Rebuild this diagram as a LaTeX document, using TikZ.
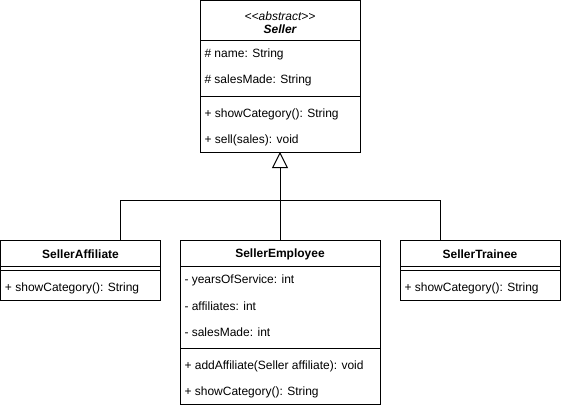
\documentclass[tikz,border=0pt]{standalone}
\usepackage{fontspec}
\setmainfont{Liberation Sans}
\usetikzlibrary{arrows.meta}
\begin{document}
\begin{tikzpicture}[x=0.75pt,y=-0.75pt,line width=0.75pt,
  umlbox/.style={draw,rectangle,anchor=north west,inner sep=0pt,outer sep=0pt},
  member/.style={anchor=west,inner sep=0pt,yshift=-1pt,font=\fontsize{9}{11}\selectfont},
  cname/.style={inner sep=0pt,yshift=-1pt,font=\fontsize{9}{11}\selectfont\bfseries},
  inherit/.style={-{Triangle[open,length=12pt,width=12pt]}}]
\useasboundingbox (0,0) rectangle (561,408);

% Seller
\node[umlbox,minimum width=120pt,minimum height=114pt] (seller) at (200,0) {};
\draw (200,40) -- (360,40);
\draw (200,96) -- (360,96);
\node[inner sep=0pt,yshift=-1pt,font=\fontsize{9}{11}\selectfont\itshape] (sellerst) at (280,15) {<\kern0pt<abstract>\kern0pt>};
\node[cname,font=\fontsize{9}{11}\selectfont\bfseries\itshape] (sellername) at (280,28) {Seller};
\node[member] (s1) at (204,53) {\# name: String};
\node[member] (s2) at (204,79) {\# salesMade: String};
\node[member] (s3) at (204,113) {+ showCategory(): String};
\node[member] (s4) at (204,139) {+ sell(sales): void};

% SellerAffiliate
\node[umlbox,minimum width=120pt,minimum height=45pt] (aff) at (0.5,240) {};
\draw (0.5,266) -- (160.5,266);
\draw (0.5,270) -- (160.5,270);
\node[cname] (affname) at (80.5,253) {SellerAffiliate};
\node[member] (a1) at (4.5,287) {+ showCategory(): String};

% SellerEmployee
\node[umlbox,minimum width=150pt,minimum height=123pt] (emp) at (180,240) {};
\draw (180,266) -- (380,266);
\draw (180,348) -- (380,348);
\node[cname] (empname) at (280,253) {SellerEmployee};
\node[member] (e1) at (184,279) {- yearsOfService: int};
\node[member] (e2) at (184,305) {- affiliates: int};
\node[member] (e3) at (184,331) {- salesMade: int};
\node[member] (e4) at (184,365) {+ addAffiliate(Seller affiliate): void};
\node[member] (e5) at (184,391) {+ showCategory(): String};

% SellerTrainee
\node[umlbox,minimum width=120pt,minimum height=45pt] (tra) at (400,240) {};
\draw (400,266) -- (560,266);
\draw (400,270) -- (560,270);
\node[cname] (traname) at (480,253) {SellerTrainee};
\node[member] (t1) at (404,287) {+ showCategory(): String};

% Inheritance
\coordinate (join) at (280,200);
\coordinate (affport) at ([xshift=29.625pt]aff.north);
\coordinate (traport) at ([xshift=-30pt]tra.north);
\draw[inherit] (emp.north) -- (seller.south);
\draw (affport) |- (join);
\draw (traport) |- (join);
\end{tikzpicture}
\end{document}
